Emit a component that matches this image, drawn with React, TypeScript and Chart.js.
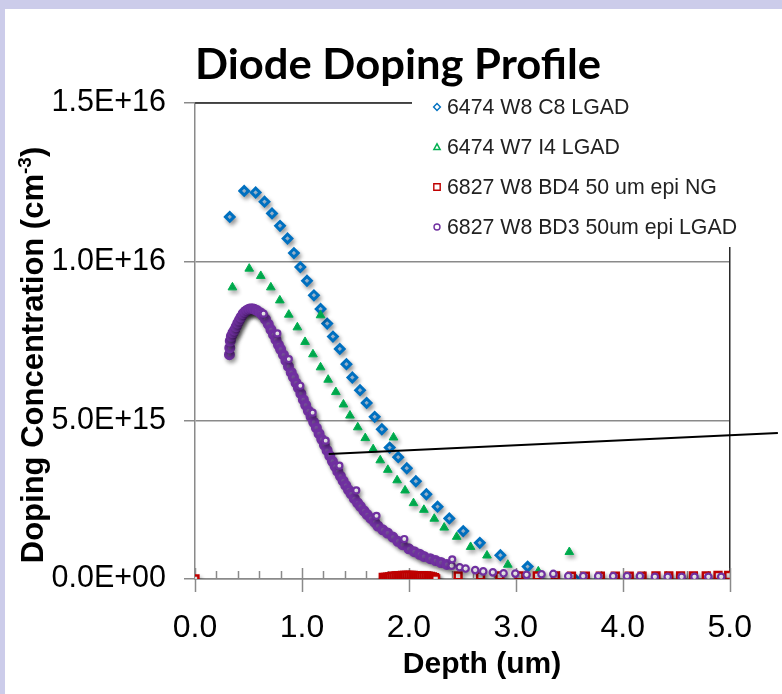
import React, { useEffect, useRef } from "react";
import { Chart, registerables } from "chart.js";

Chart.register(...registerables);

const WIDTH = 782;
const HEIGHT = 694;

// Depth in um, concentration in units of 1e15 cm^-3
const c8Depth = [0.325, 0.46, 0.567, 0.65, 0.72, 0.795, 0.865, 0.925, 0.985, 1.047, 1.112, 1.174, 1.236, 1.29, 1.354, 1.416, 1.471, 1.543, 1.605, 1.68, 1.747, 1.82, 1.9, 1.98, 2.065, 2.163, 2.268, 2.378, 2.508, 2.663, 2.855, 3.11, 3.555];
const c8Conc = [11.41, 12.23, 12.18, 11.89, 11.52, 11.13, 10.73, 10.27, 9.83, 9.4, 8.94, 8.51, 8.05, 7.64, 7.25, 6.77, 6.35, 5.95, 5.55, 5.11, 4.72, 4.14, 3.84, 3.49, 3.08, 2.67, 2.28, 1.91, 1.51, 1.14, 0.75, 0.39, -0.01];

const i4Depth = [0.35, 0.507, 0.615, 0.709, 0.793, 0.877, 0.957, 1.029, 1.103, 1.174, 1.174, 1.245, 1.317, 1.388, 1.449, 1.522, 1.592, 1.666, 1.732, 1.803, 1.856, 1.89, 1.964, 2.043, 2.14, 2.237, 2.33, 2.447, 2.577, 2.73, 2.925, 3.21, 3.5, 3.75];
const i4Conc = [9.19, 9.78, 9.55, 9.19, 8.78, 8.33, 7.93, 7.47, 7.08, 6.67, 8.31, 6.28, 5.89, 5.5, 5.15, 4.78, 4.44, 4.09, 3.74, 3.44, 4.46, 3.11, 2.79, 2.39, 2.18, 1.9, 1.62, 1.33, 1.01, 0.74, 0.45, 0.24, 0.85, -0.05];

const bd4Depth = [0, 1.76, 1.78, 1.8, 1.82, 1.84, 1.86, 1.88, 1.9, 1.92, 1.94, 1.96, 1.98, 2.0, 2.02, 2.04, 2.06, 2.08, 2.1, 2.12, 2.14, 2.16, 2.18, 2.2, 2.22, 2.24, 2.25, 2.46, 2.67, 2.85, 3.03, 3.2, 3.37, 3.52, 3.65, 3.79, 3.93, 4.06, 4.18, 4.31, 4.43, 4.54, 4.66, 4.78, 4.89, 4.99];
const bd4Conc = [0, 0.05, 0.05, 0.06, 0.07, 0.08, 0.09, 0.1, 0.1, 0.1, 0.11, 0.11, 0.11, 0.11, 0.11, 0.11, 0.1, 0.1, 0.1, 0.1, 0.1, 0.1, 0.09, 0.08, 0.07, 0.04, 0, 0.1, 0.1, 0.1, 0.1, 0.1, 0.1, 0.09, 0.09, 0.09, 0.09, 0.09, 0.09, 0.1, 0.1, 0.1, 0.1, 0.1, 0.11, 0.11];

const bd3Depth = [0.322, 0.325, 0.33, 0.34, 0.355, 0.37, 0.385, 0.4, 0.415, 0.43, 0.45, 0.47, 0.49, 0.51, 0.533, 0.555, 0.58, 0.61, 0.635, 0.66, 0.685, 0.71, 0.734, 0.757, 0.78, 0.8, 0.827, 0.85, 0.874, 0.9, 0.92, 0.945, 0.967, 0.99, 1.013, 1.035, 1.06, 1.085, 1.11, 1.135, 1.16, 1.185, 1.21, 1.235, 1.26, 1.285, 1.31, 1.335, 1.36, 1.385, 1.41, 1.435, 1.46, 1.49, 1.52, 1.546, 1.58, 1.61, 1.645, 1.68, 1.71, 1.756, 1.8, 1.85, 1.896, 1.94, 2.0, 2.05, 2.1, 2.14, 2.2, 2.25, 2.3, 2.355, 2.4, 2.475, 2.53, 2.62, 2.695, 2.785, 2.885, 2.995, 3.1, 3.24, 3.35, 3.49, 3.63, 3.77, 3.91, 4.04, 4.16, 4.3, 4.42, 4.55, 4.67, 4.8, 4.92,
  0.641, 0.77, 0.877, 0.985, 1.1, 1.222, 1.35, 1.508, 1.697, 1.957, 2.405];
const bd3Conc = [7.07, 7.28, 7.5, 7.65, 7.76, 7.84, 7.95, 8.06, 8.16, 8.25, 8.36, 8.43, 8.48, 8.51, 8.52, 8.5, 8.46, 8.39, 8.3, 8.18, 8.03, 7.86, 7.7, 7.54, 7.38, 7.24, 7.06, 6.88, 6.7, 6.51, 6.36, 6.18, 6.02, 5.84, 5.65, 5.48, 5.3, 5.12, 4.94, 4.76, 4.58, 4.4, 4.22, 4.05, 3.88, 3.71, 3.55, 3.39, 3.24, 3.09, 2.95, 2.81, 2.68, 2.53, 2.4, 2.29, 2.15, 2.03, 1.91, 1.79, 1.67, 1.55, 1.45, 1.32, 1.19, 1.08, 0.95, 0.86, 0.78, 0.71, 0.64, 0.58, 0.52, 0.46, 0.42, 0.37, 0.33, 0.28, 0.24, 0.21, 0.18, 0.17, 0.13, 0.15, 0.16, 0.09, 0.09, 0.09, 0.09, 0.09, 0.09, 0.07, 0.07, 0.07, 0.07, 0.07, 0.07,
  8.36, 7.74, 6.93, 6.09, 5.24, 4.36, 3.57, 2.79, 1.99, 1.26, 0.62];
// the steep part of the fine-step BD3 sweep (dense run) is drawn heavier
const bd3DenseCount = 74;
const bd3FineCount = 97;

const seriesNames = ["6474 W8 C8 LGAD", "6474 W7 I4 LGAD", "6827 W8 BD4 50 um epi NG", "6827 W8 BD3 50um epi LGAD"];
const seriesColors = ["#0070C0", "#00B050", "#C00000", "#7030A0"];
const xTickValues = [0, 1, 2, 3, 4, 5];
const xMinorStep = 0.2;
const yTickValues = [0, 5, 10, 15];
// Leader line: from a point on the BD3 curve out past the right edge
const leaderFrom = { x: 1.25, y: 3.94 };
const leaderTo = { x: 5.45, y: 4.6 };

const AXIS_GRAY = "#8a8a8a";
const SANS = '"Liberation Sans", Arial, sans-serif';

const zip = (xs: number[], ys: number[]) => xs.map((x, i) => ({ x, y: ys[i] }));

function formatSci(v: number): string {
  const n = v * 1e15;
  if (n === 0) return "0.0E+00";
  const exp = Math.floor(Math.log10(n) + 1e-9);
  const mant = n / Math.pow(10, exp);
  return mant.toFixed(1) + "E+" + String(exp).padStart(2, "0");
}

function drawMarker(ctx: CanvasRenderingContext2D, style: string, x: number, y: number, r: number, color: string) {
  ctx.beginPath();
  if (style === "rectRot") {
    ctx.moveTo(x - r, y);
    ctx.lineTo(x, y - r);
    ctx.lineTo(x + r, y);
    ctx.lineTo(x, y + r);
    ctx.closePath();
  } else if (style === "triangle") {
    ctx.moveTo(x - r, y + r * 0.8);
    ctx.lineTo(x, y - r);
    ctx.lineTo(x + r, y + r * 0.8);
    ctx.closePath();
  } else if (style === "rect") {
    ctx.rect(x - r, y - r, 2 * r, 2 * r);
  } else {
    ctx.arc(x, y, r, 0, Math.PI * 2);
  }
  ctx.fillStyle = "#ffffff";
  ctx.fill();
  ctx.lineWidth = 1.4;
  ctx.strokeStyle = color;
  ctx.stroke();
}

const framePlugin = {
  id: "frame",
  beforeDraw(chart: any) {
    const ctx = chart.ctx;
    ctx.save();
    ctx.fillStyle = "#ccccea";
    ctx.fillRect(0, 0, WIDTH, HEIGHT);
    ctx.fillStyle = "#ffffff";
    ctx.fillRect(5, 9, WIDTH - 5, HEIGHT - 9);
    ctx.restore();
  },
  beforeDatasetsDraw(chart: any) {
    const ctx = chart.ctx;
    const { left, right, top, bottom } = chart.chartArea;
    const xs = chart.scales.x;
    ctx.save();
    // plot frame on top and right
    ctx.strokeStyle = "#2a2a2a";
    ctx.lineWidth = 1.5;
    ctx.beginPath();
    ctx.moveTo(left, top);
    ctx.lineTo(right, top);
    ctx.lineTo(right, bottom);
    ctx.stroke();
    // x-axis minor (inside) and major (crossing) tick marks
    ctx.strokeStyle = AXIS_GRAY;
    ctx.lineWidth = 1.5;
    const nMinor = Math.round((xs.max - xs.min) / xMinorStep);
    for (let i = 0; i <= nMinor; i++) {
      const v = xs.min + i * xMinorStep;
      const px = Math.round(xs.getPixelForValue(v)) + 0.5;
      const major = xTickValues.some((t) => Math.abs(t - v) < 1e-6);
      ctx.beginPath();
      if (major) {
        ctx.moveTo(px, bottom - 11);
        ctx.lineTo(px, bottom + 13);
      } else {
        ctx.moveTo(px, bottom - 8);
        ctx.lineTo(px, bottom);
      }
      ctx.stroke();
    }
    ctx.restore();
    // soft drop shadow for the markers
    ctx.save();
    ctx.shadowColor = "rgba(0,0,0,0.32)";
    ctx.shadowBlur = 4;
    ctx.shadowOffsetX = 2;
    ctx.shadowOffsetY = 3;
  },
  afterDatasetsDraw(chart: any) {
    const ctx = chart.ctx;
    ctx.restore();
    const xs = chart.scales.x;
    const ys = chart.scales.y;
    ctx.save();
    ctx.strokeStyle = "#000000";
    ctx.lineWidth = 2;
    ctx.beginPath();
    ctx.moveTo(xs.getPixelForValue(leaderFrom.x), ys.getPixelForValue(leaderFrom.y));
    ctx.lineTo(xs.getPixelForValue(leaderTo.x), ys.getPixelForValue(leaderTo.y));
    ctx.stroke();
    ctx.restore();
  },
  afterDraw(chart: any) {
    const ctx = chart.ctx;
    ctx.save();

    // Legend box (white backing hides the frame behind it)
    ctx.fillStyle = "#ffffff";
    ctx.fillRect(412, 92, 336, 155);
    const rows = [107, 147, 187, 227];
    const styles = ["rectRot", "triangle", "rect", "circle"];
    const sizes = [3.4, 3.2, 3.2, 3.0];
    ctx.textAlign = "left";
    ctx.textBaseline = "middle";
    ctx.font = `21.3px ${SANS}`;
    chart.data.datasets.forEach((ds: any, i: number) => {
      drawMarker(ctx, styles[i], 437, rows[i], sizes[i], seriesColors[i]);
      ctx.fillStyle = "#222222";
      ctx.fillText(ds.label, 447, rows[i] + 1);
    });

    // Title
    ctx.fillStyle = "#000000";
    ctx.font = 'bold 42px Lato, "Open Sans", sans-serif';
    ctx.textBaseline = "alphabetic";
    ctx.textAlign = "left";
    const title = "Diode Doping Profile";
    const tw = ctx.measureText(title).width;
    const targetW = 406;
    ctx.save();
    ctx.translate(398 - targetW / 2, 79);
    ctx.scale(targetW / tw, 1);
    ctx.fillText(title, 0, 0);
    ctx.restore();

    // Y-axis title with superscript
    const mainFont = `bold 31px ${SANS}`;
    const supFont = `bold 19px ${SANS}`;
    const partA = "Doping Concentration (cm";
    const partSup = "-3";
    const partB = ")";
    ctx.font = mainFont;
    const wA = ctx.measureText(partA).width;
    const wB = ctx.measureText(partB).width;
    ctx.font = supFont;
    const wS = ctx.measureText(partSup).width;
    const total = wA + wS + wB;
    ctx.save();
    ctx.translate(43, 355);
    ctx.rotate(-Math.PI / 2);
    let cx = -total / 2;
    ctx.font = mainFont;
    ctx.fillText(partA, cx, 0);
    cx += wA;
    ctx.font = supFont;
    ctx.fillText(partSup, cx, -12);
    cx += wS;
    ctx.font = mainFont;
    ctx.fillText(partB, cx, 0);
    ctx.restore();

    // X-axis title
    ctx.font = `bold 30px ${SANS}`;
    ctx.textAlign = "center";
    ctx.fillText("Depth (um)", 482, 673);

    ctx.restore();
  },
};

export default function App() {
  const canvasRef = useRef<HTMLCanvasElement | null>(null);

  useEffect(() => {
    const canvas = canvasRef.current;
    if (!canvas) return;
    const chart = new Chart(canvas, {
      type: "scatter",
      data: {
        datasets: [
          {
            label: seriesNames[0],
            data: zip(c8Depth, c8Conc),
            pointStyle: "rectRot",
            pointRadius: 4.3,
            pointBorderWidth: 3,
            pointBorderColor: seriesColors[0],
            pointBackgroundColor: "#b8d6f2",
            showLine: false,
            order: 4,
          },
          {
            label: seriesNames[1],
            data: zip(i4Depth, i4Conc),
            pointStyle: "triangle",
            pointRadius: 5,
            pointBorderWidth: 1,
            pointBorderColor: seriesColors[1],
            pointBackgroundColor: seriesColors[1],
            showLine: false,
            order: 3,
          },
          {
            label: seriesNames[2],
            data: zip(bd4Depth, bd4Conc),
            pointStyle: "rect",
            pointRadius: 4.8,
            pointBorderWidth: 2.5,
            pointBorderColor: seriesColors[2],
            pointBackgroundColor: "#ffffff",
            showLine: false,
            order: 2,
          },
          {
            label: seriesNames[3],
            data: zip(bd3Depth, bd3Conc),
            pointStyle: "circle",
            pointRadius: (c: any) => (c.dataIndex < bd3DenseCount ? 3.7 : c.dataIndex < bd3FineCount ? 3.2 : 3),
            pointBorderWidth: (c: any) => (c.dataIndex < bd3DenseCount ? 3.6 : 2.2),
            pointBorderColor: seriesColors[3],
            pointBackgroundColor: (c: any) => (c.dataIndex < bd3DenseCount ? "#8a5cb4" : "#ffffff"),
            showLine: false,
            order: 1,
          },
        ],
      },
      options: {
        responsive: false,
        animation: false,
        devicePixelRatio: 1,
        events: [],
        layout: { padding: { left: 0, top: 103, right: 48, bottom: 0 } },
        plugins: {
          legend: { display: false },
          title: { display: false },
          tooltip: { enabled: false },
        },
        scales: {
          x: {
            type: "linear",
            min: 0,
            max: 5,
            afterFit: (s: any) => {
              s.height = 115;
            },
            afterBuildTicks: (s: any) => {
              s.ticks = xTickValues.map((v) => ({ value: v }));
            },
            grid: { display: false, drawTicks: false },
            border: { display: true, color: AXIS_GRAY, width: 1.5 },
            ticks: {
              padding: 30,
              color: "#000000",
              autoSkip: false,
              maxRotation: 0,
              font: { family: SANS, size: 32 },
              callback: (v: any) => Number(v).toFixed(1),
            },
          },
          y: {
            type: "linear",
            min: 0,
            max: 15,
            afterFit: (s: any) => {
              s.width = 195;
            },
            afterBuildTicks: (s: any) => {
              s.ticks = yTickValues.map((v) => ({ value: v }));
            },
            grid: { color: AXIS_GRAY, lineWidth: 1.5, tickLength: 11, drawTicks: true },
            border: { display: true, color: AXIS_GRAY, width: 1.5 },
            ticks: {
              padding: 18,
              color: "#000000",
              font: { family: SANS, size: 30.5 },
              callback: (v: any) => formatSci(Number(v)),
            },
          },
        },
      },
      plugins: [framePlugin],
    } as any);
    return () => chart.destroy();
  }, []);

  return (
    <div style={{ position: "absolute", left: 0, top: 0, width: WIDTH, height: HEIGHT }}>
      <canvas ref={canvasRef} width={WIDTH} height={HEIGHT} style={{ display: "block" }} />
    </div>
  );
}
